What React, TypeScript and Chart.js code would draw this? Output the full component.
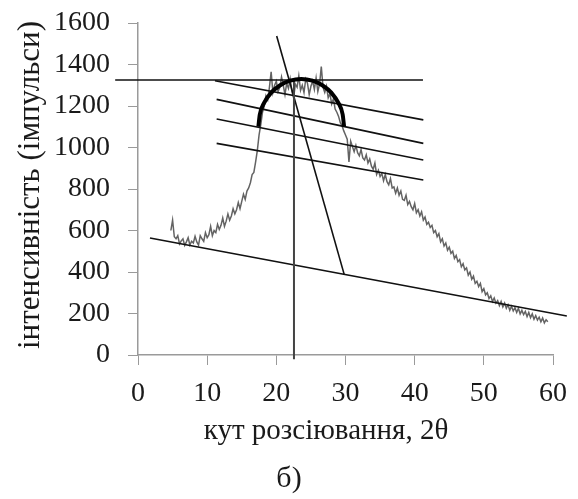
import { useEffect, useRef } from 'react';
import { Chart, registerables } from 'chart.js';
Chart.register(...registerables);

// scattering angle grid of the measured curve
const angleStart = 4.75;
const angleStep = 0.25;
// measured intensity (counts), one value per angle step (4.75 … 59.25)
const intensity = [
  600,
  650, 570, 560, 575,
  535, 550, 560, 528,
  545, 565, 530, 548,
  540, 572, 545, 530,
  575, 560, 548, 590,
  565, 580, 620, 575,
  600, 590, 630, 605,
  625, 660, 620, 645,
  680, 650, 670, 705,
  680, 700, 735, 705,
  740, 775, 750, 790,
  805, 830, 870, 880,
  930, 985, 1060, 1110,
  1170, 1200, 1250, 1230,
  1290, 1365, 1265, 1300,
  1320, 1270, 1290, 1340,
  1300, 1255, 1310, 1285,
  1330, 1270, 1240, 1305,
  1290, 1345, 1275, 1300,
  1265, 1330, 1310, 1255,
  1295, 1320, 1280, 1335,
  1270, 1305, 1390, 1290,
  1265, 1295, 1240, 1260,
  1210, 1235, 1185, 1170,
  1150, 1120, 1105, 1080,
  1060, 1040, 930, 1030,
  1005, 980, 1010, 975,
  960, 990, 950, 940,
  965, 925, 945, 910,
  895, 925, 870, 890,
  860, 875, 840, 870,
  835, 820, 850, 805,
  810, 780, 805, 770,
  790, 750, 745, 770,
  725, 740, 715, 700,
  730, 685, 700, 670,
  690, 650, 665, 630,
  640, 615, 625, 590,
  600, 570, 585, 545,
  560, 525, 540, 505,
  520, 490, 500, 465,
  480, 450, 460, 425,
  440, 410, 420, 385,
  400, 365, 380, 345,
  355, 330, 345, 305,
  320, 290, 300, 272,
  285, 258, 275, 250,
  262, 238, 258, 232,
  250, 225, 242, 215,
  235, 212, 228, 205,
  225, 198, 215, 195,
  210, 185, 205, 180,
  198, 172, 190, 168,
  182, 160, 178, 155,
  170, 160,
];

// construction lines (x = 2θ, y = counts)
const topLineX = [-3.3, 41.2];
const topLineY = [1325, 1325];
const peakLineX = [22.55, 22.55];
const peakLineY = [1325, -20];
const steepLineX = [20.05, 29.83];
const steepLineY = [1537, 386];
const baseLineX = [1.73, 62];
const baseLineY = [564, 188];
const chordStartX = [11.13, 11.37, 11.37, 11.37];
const chordStartY = [1322, 1232, 1137, 1020];
const chordEndX = [41.25, 41.25, 41.25, 41.25];
const chordEndY = [1133, 1020, 940, 843];
const arcX = [17.4, 17.61, 18.23, 19.22, 20.5, 22.0, 23.6, 25.2, 26.7, 27.98, 28.97, 29.59, 29.8];
const arcY = [1100, 1159, 1215, 1263, 1299, 1322, 1330, 1322, 1299, 1263, 1215, 1159, 1100];

const xTicks = { min: 0, max: 60, step: 10 };
const yTicks = { min: 0, max: 1600, step: 200 };

const xTitle = 'кут розсіювання, 2θ';
const yTitle = 'інтенсивність (імпульси)';
const caption = 'б)';

const pts = (xs: number[], ys: number[]) => xs.map((x, i) => ({ x, y: ys[i] }));

const FONT = "'Liberation Serif', 'DejaVu Serif', serif";

const titlesPlugin = {
  id: 'titles',
  afterDraw(chart: any) {
    const ctx = chart.ctx as CanvasRenderingContext2D;
    ctx.save();
    ctx.fillStyle = '#1a1a1a';
    ctx.font = `29px ${FONT}`;
    ctx.textAlign = 'center';
    ctx.textBaseline = 'alphabetic';
    ctx.fillText(xTitle, 326, 439);
    ctx.font = `30px ${FONT}`;
    ctx.fillText(caption, 289, 487);
    ctx.translate(39, 185);
    ctx.rotate(-Math.PI / 2);
    ctx.font = `31px ${FONT}`;
    ctx.fillText(yTitle, 0, 0);
    ctx.restore();
  },
};

export default function App() {
  const ref = useRef<HTMLCanvasElement>(null);
  useEffect(() => {
    const curve = intensity.map((y, i) => ({ x: angleStart + i * angleStep, y }));
    const line = (data: any[], color = '#111', width = 1.6) => ({
      data,
      borderColor: color,
      borderWidth: width,
      pointRadius: 0,
      showLine: true,
      fill: false,
      tension: 0,
      clip: false as any,
      order: 1,
    });
    const datasets: any[] = [
      { ...line(pts(arcX, arcY), '#000', 4), tension: 0.4, cubicInterpolationMode: 'monotone' as const, order: 0 },
      line(pts(topLineX, topLineY)),
      line(pts(peakLineX, peakLineY), '#444', 2),
      line(pts(steepLineX, steepLineY)),
      line(pts(baseLineX, baseLineY)),
      ...chordStartX.map((_, i) =>
        line(pts([chordStartX[i], chordEndX[i]], [chordStartY[i], chordEndY[i]]))
      ),
      {
        data: curve,
        borderColor: 'rgba(60,60,60,0.8)',
        borderWidth: 1.5,
        pointRadius: 0,
        showLine: true,
        fill: false,
        tension: 0,
        order: 5,
      },
    ];
    const tickFont = { family: FONT, size: 28 };
    const chart = new Chart(ref.current!, {
      type: 'line',
      data: { datasets },
      options: {
        responsive: false,
        animation: false,
        layout: { padding: { top: 23, right: 25, left: 0, bottom: 0 } },
        plugins: { legend: { display: false }, tooltip: { enabled: false } },
        scales: {
          x: {
            type: 'linear',
            min: xTicks.min,
            max: xTicks.max,
            ticks: { stepSize: xTicks.step, font: tickFont, color: '#1a1a1a', padding: 12, maxRotation: 0, callback: (v: any) => String(v) },
            grid: { drawOnChartArea: false, drawTicks: true, tickLength: 10, color: '#9a9a9a' },
            border: { color: '#9a9a9a', width: 1.5 },
            afterFit: (s: any) => {
              s.height = 144;
              s.paddingLeft = 0;
              s.paddingRight = 0;
            },
          },
          y: {
            type: 'linear',
            min: yTicks.min,
            max: yTicks.max,
            ticks: { stepSize: yTicks.step, font: tickFont, color: '#1a1a1a', padding: 18, callback: (v: any) => String(v) },
            grid: { drawOnChartArea: false, drawTicks: true, tickLength: 10, color: '#9a9a9a' },
            border: { color: '#9a9a9a', width: 1.5 },
            afterFit: (s: any) => {
              s.width = 138;
              s.paddingTop = 0;
              s.paddingBottom = 0;
            },
          },
        },
      },
      plugins: [titlesPlugin],
    });
    return () => chart.destroy();
  }, []);
  return (
    <canvas
      ref={ref}
      width={578}
      height={499}
      style={{ position: 'absolute', left: 0, top: 0, display: 'block' }}
    />
  );
}
